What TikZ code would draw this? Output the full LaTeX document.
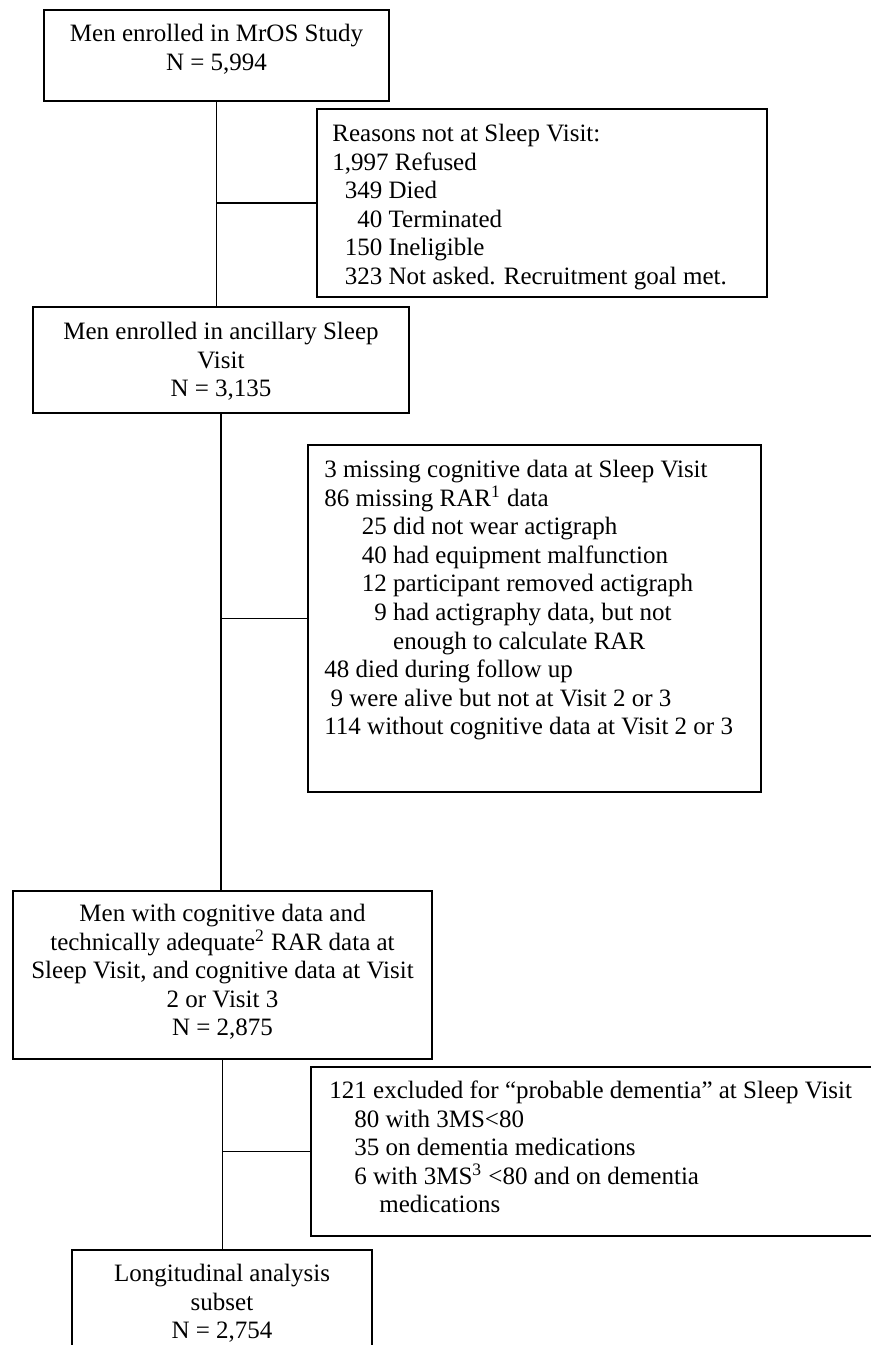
\documentclass[tikz,border=0pt]{standalone}
\usepackage{fontspec}
\setmainfont{Liberation Serif}
\begin{document}
\begin{tikzpicture}[x=0.5pt,y=-0.5pt,
  boxst/.style={draw=black, line width=0.75pt, inner sep=0pt, outer sep=0pt, anchor=north west},
  txt/.style={inner sep=0pt, font=\fontsize{12.5}{14.3}\selectfont},
  conn/.style={draw=black, line width=0.75pt}]
\clip (0,0) rectangle (871,1345);
\fill[white] (0,0) rectangle (871,1345);
% boxes
\node[boxst, minimum width=172.5pt, minimum height=45.5pt] (b1) at (44,10) {};
\node[boxst, minimum width=225pt, minimum height=94pt] (r1) at (317,109) {};
\node[boxst, minimum width=188pt, minimum height=53pt] (b3) at (33,307) {};
\node[boxst, minimum width=226.5pt, minimum height=173.5pt] (r2) at (308,445) {};
\node[boxst, minimum width=209.5pt, minimum height=84pt] (b4) at (13,891) {};
\node[boxst, minimum width=284.5pt, minimum height=84.5pt] (r3) at (311,1067) {};
\node[boxst, minimum width=150pt, minimum height=65pt] (b6) at (72,1250) {};
% texts
\node[txt, anchor=north, align=center] (t1) at (216.5,21)
  {\rule{0pt}{10pt}Men enrolled in MrOS Study\\N = 5,994};
\node[txt, anchor=north west, align=left] (t2) at (332,121)
  {\rule{0pt}{10pt}Reasons not at Sleep Visit:\\
   1,997 Refused\\
   \hspace*{0.5em}349 Died\\
   \hspace*{1em}40 Terminated\\
   \hspace*{0.5em}150 Ineligible\\
   \hspace*{0.5em}323 Not asked. Recruitment goal met.};
\node[txt, anchor=north, align=center] (t3) at (221,319)
  {\rule{0pt}{10pt}Men enrolled in ancillary Sleep\\Visit\\N = 3,135};
\node[txt, anchor=north west, align=left] (t4) at (324,457)
  {\rule{0pt}{10pt}3 missing cognitive data at Sleep Visit\\
   86 missing RAR\textsuperscript{1} data\\
   \hspace*{1.5em}25 did not wear actigraph\\
   \hspace*{1.5em}40 had equipment malfunction\\
   \hspace*{1.5em}12 participant removed actigraph\\
   \hspace*{2em}9 had actigraphy data, but not\\
   \hspace*{2.75em}enough to calculate RAR\\
   48 died during follow up\\
   \hspace*{0.25em}9 were alive but not at Visit 2 or 3\\
   114 without cognitive data at Visit 2 or 3};
\node[txt, anchor=north, align=center] (t5) at (222.5,901)
  {\rule{0pt}{10pt}Men with cognitive data and\\
   technically adequate\textsuperscript{2} RAR data at\\
   Sleep Visit, and cognitive data at Visit\\
   2 or Visit 3\\
   N = 2,875};
\node[txt, anchor=north west, align=left] (t6) at (329,1078)
  {\rule{0pt}{10pt}121 excluded for “probable dementia” at Sleep Visit\\
   \hspace*{1em}80 with 3MS<80\\
   \hspace*{1em}35 on dementia medications\\
   \hspace*{1em}6 with 3MS\textsuperscript{3} <80 and on dementia\\
   \hspace*{2em}medications};
\node[txt, anchor=north, align=center] (t7) at (222,1261)
  {\rule{0pt}{10pt}Longitudinal analysis\\subset\\N = 2,754};
% connectors
\draw[conn] (b1.south) -- (b1.south |- b3.north);
\draw[conn] (r1.west) -- (r1.west -| b1.south);
\draw[conn] (b3.south) -- (b3.south |- b4.north);
\draw[conn] (r2.west) -- (r2.west -| b3.south);
\draw[conn] (b4.south) -- (b4.south |- b6.north);
\draw[conn] (r3.west) -- (r3.west -| b4.south);
\end{tikzpicture}
\end{document}
